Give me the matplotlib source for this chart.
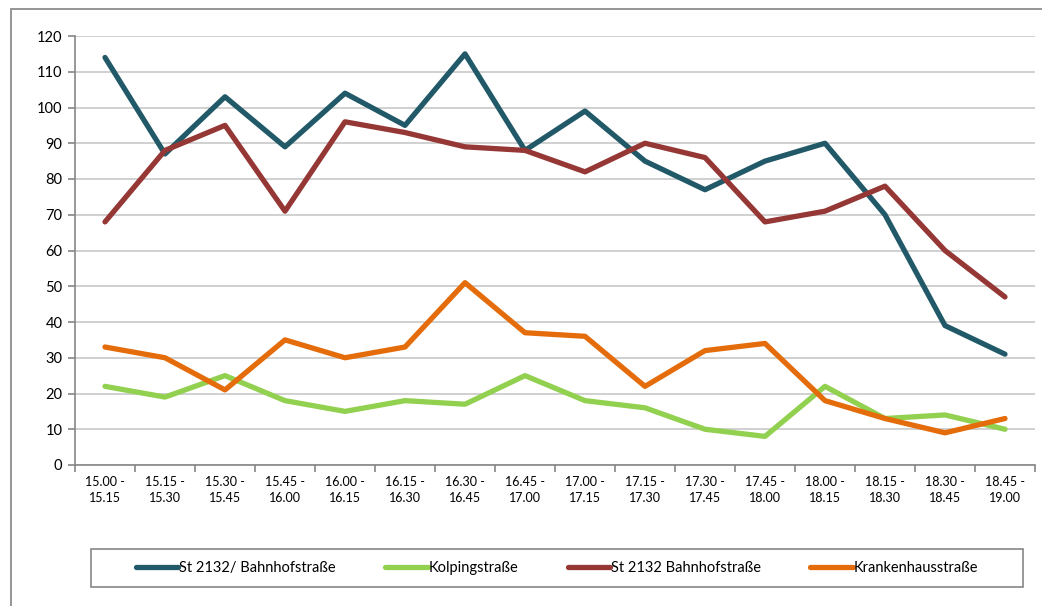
import matplotlib
matplotlib.use("Agg")
import matplotlib.pyplot as plt
from matplotlib.patches import Rectangle

plt.rcParams['font.family'] = ['Lato', 'DejaVu Sans']

# time slots (x categories)
slots = ["15.00 -\n15.15", "15.15 -\n15.30", "15.30 -\n15.45", "15.45 -\n16.00",
         "16.00 -\n16.15", "16.15 -\n16.30", "16.30 -\n16.45", "16.45 -\n17.00",
         "17.00 -\n17.15", "17.15 -\n17.30", "17.30 -\n17.45", "17.45 -\n18.00",
         "18.00 -\n18.15", "18.15 -\n18.30", "18.30 -\n18.45", "18.45 -\n19.00"]

# counts per series
st2132_slash = [114, 87, 103, 89, 104, 95, 115, 88, 99, 85, 77, 85, 90, 70, 39, 31]
kolping = [22, 19, 25, 18, 15, 18, 17, 25, 18, 16, 10, 8, 22, 13, 14, 10]
st2132 = [68, 88, 95, 71, 96, 93, 89, 88, 82, 90, 86, 68, 71, 78, 60, 47]
krankenhaus = [33, 30, 21, 35, 30, 33, 51, 37, 36, 22, 32, 34, 18, 13, 9, 13]

W, H = 1042, 606
fig = plt.figure(figsize=(W / 100, H / 100), dpi=100)
ax = fig.add_axes([75 / W, 1 - 465 / H, 960 / W, 429 / H])

x = range(len(slots))
lw = 3.8
ax.plot(x, st2132_slash, color="#215968", lw=lw, label="St 2132/ Bahnhofstraße", solid_capstyle="round")
ax.plot(x, kolping, color="#92D050", lw=lw, label="Kolpingstraße", solid_capstyle="round")
ax.plot(x, st2132, color="#953735", lw=lw, label="St 2132 Bahnhofstraße", solid_capstyle="round")
ax.plot(x, krankenhaus, color="#E46C0A", lw=lw, label="Krankenhausstraße", solid_capstyle="round")

ax.set_xlim(-0.5, len(slots) - 0.5)
ax.set_ylim(0, 120)
ax.set_yticks(range(0, 121, 10))
ax.yaxis.grid(True, color="#C8C8C8", lw=1.2)
ax.set_axisbelow(True)

ax.set_xticks(list(x))
ax.set_xticklabels(slots, fontsize=9, linespacing=1.35)
ax.set_xticks([i - 0.5 for i in range(len(slots) + 1)], minor=True)
ax.tick_params(axis="x", which="major", length=0, pad=8)
ax.tick_params(axis="x", which="minor", length=5, color="#868686", width=1.2)
ax.tick_params(axis="y", length=5, color="#868686", width=1.2, labelsize=10.5, pad=4)

for s in ["top", "right"]:
    ax.spines[s].set_visible(False)
for s in ["left", "bottom"]:
    ax.spines[s].set_color("#868686")
    ax.spines[s].set_linewidth(1.2)

# legend box drawn separately, entries centred inside it
fig.patches.append(Rectangle((91 / W, 1 - 587 / H), 932 / W, 38 / H, transform=fig.transFigure,
                             fill=False, edgecolor="#868686", lw=1.2))
fig.legend(loc="center", ncol=4, bbox_to_anchor=(557 / W, 1 - 568 / H),
           frameon=False, fontsize=10.5, handlelength=2.9, handletextpad=0.05,
           columnspacing=3.4, borderaxespad=0)

# outer chart border (partly cut off at right/bottom)
fig.patches.append(Rectangle((11 / W, -0.1), 1.2, 1.1 - 9 / H, transform=fig.transFigure,
                             fill=False, edgecolor="#8C8C8C", lw=1.3))

fig.savefig("out.png", dpi=100)
